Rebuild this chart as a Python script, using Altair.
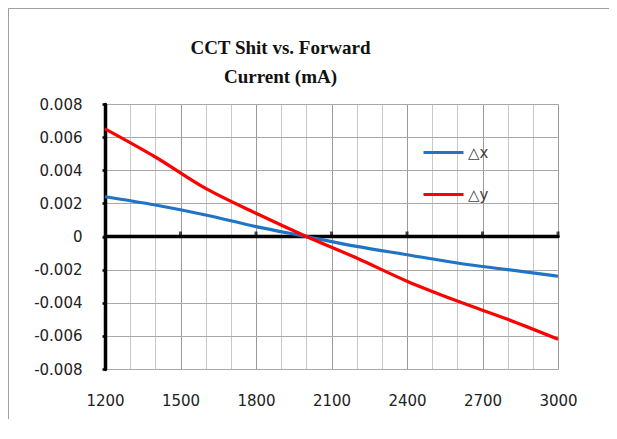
import altair as alt
import pandas as pd

currents = [1200, 1400, 1600, 1800, 2000, 2200, 2400, 2600, 2800, 3000]
delta_x = [0.0024, 0.0019, 0.0013, 0.0006, 0.0, -0.0006, -0.0011, -0.0016, -0.0020, -0.0024]
delta_y = [0.0065, 0.0048, 0.0029, 0.0014, 0.0, -0.0013, -0.0027, -0.0039, -0.0050, -0.0062]
series_names = ["△x", "△y"]
series_colors = ["#1f74c4", "#ff0000"]
x_grid_values = list(range(1200, 3001, 100))
x_major_values = [1500, 1800, 2100, 2400, 2700, 3000]
y_values = [-0.008, -0.006, -0.004, -0.002, 0, 0.002, 0.004, 0.006, 0.008]

rows = []
for c, dx, dy in zip(currents, delta_x, delta_y):
    rows.append({"current": c, "value": dx, "series": series_names[0]})
    rows.append({"current": c, "value": dy, "series": series_names[1]})
df = pd.DataFrame(rows)

xscale = alt.Scale(domain=[1200, 3000], nice=False, zero=False)
yscale = alt.Scale(domain=[-0.008, 0.008], nice=False, zero=False)

x_axis = alt.Axis(
    values=x_grid_values,
    labelExpr="datum.value % 300 == 0 ? datum.value : ''",
    grid=True,
    gridColor={"condition": {"test": "datum.value % 300 == 0", "value": "#9a9a9a"}, "value": "#c8c8c8"},
    gridWidth=1,
    domain=False,
    ticks=False,
    labelPadding=24,
    labelFont="DejaVu Sans",
    labelFontSize=15,
    labelColor="#222222",
    labelOverlap=False,
    labelFlush=False,
    title=None,
)
y_axis = alt.Axis(
    values=y_values,
    labelExpr="datum.value == 0 ? '0' : (datum.value < 0 ? '-' : '') + format(abs(datum.value), '.3f')",
    grid=True,
    gridColor="#a8a8a8",
    gridWidth=1,
    domain=True,
    domainColor="#000000",
    domainWidth=3.5,
    domainCap="round",
    ticks=True,
    tickColor="#000000",
    tickWidth=2.5,
    tickSize=3,
    labelPadding=20,
    labelFont="DejaVu Sans",
    labelFontSize=15,
    labelColor="#222222",
    labelOverlap=False,
    labelFlush=False,
    title=None,
)

base = alt.Chart(df)

lines = base.mark_line(strokeWidth=3.2, interpolate="monotone").encode(
    x=alt.X("current:Q", scale=xscale, axis=x_axis),
    y=alt.Y("value:Q", scale=yscale, axis=y_axis),
    color=alt.Color(
        "series:N",
        scale=alt.Scale(domain=series_names, range=series_colors),
        legend=alt.Legend(
            title=None,
            orient="none",
            legendX=317,
            legendY=27,
            symbolType="stroke",
            symbolSize=1600,
            symbolStrokeWidth=3,
            labelFont="DejaVu Sans",
            labelFontSize=15,
            labelColor="#404040",
            rowPadding=12,
            labelOffset=3,
        ),
    ),
)

zero_df = pd.DataFrame({"y": [0]})
zero_line = alt.Chart(zero_df).mark_rule(color="#000000", strokeWidth=3.5, strokeCap="round").encode(
    y=alt.Y("y:Q", scale=yscale, axis=y_axis)
)

tick_df = pd.DataFrame({"current": x_major_values, "y": [0] * len(x_major_values)})
zero_ticks = alt.Chart(tick_df).mark_tick(color="#000000", thickness=3, size=6, orient="vertical", yOffset=-2).encode(
    x=alt.X("current:Q", scale=xscale, axis=x_axis),
    y=alt.Y("y:Q", scale=yscale, axis=y_axis),
)

frame = alt.Chart(zero_df).mark_rule(color="#a0a0a0", strokeWidth=2).encode(
    x=alt.value(-97), x2=alt.value(504), y=alt.value(-96)
)
frame_left = alt.Chart(zero_df).mark_rule(color="#a0a0a0", strokeWidth=2).encode(
    x=alt.value(-97), y=alt.value(-96), y2=alt.value(345)
)

chart = alt.layer(zero_line, zero_ticks, lines, frame, frame_left).properties(
    width=453,
    height=265,
    padding={"left": 97, "top": 96, "right": 51, "bottom": 50},
    autosize=alt.AutoSizeParams(type="none"),
    title=alt.TitleParams(
        text=["CCT Shit vs. Forward", "Current (mA)"],
        font="Liberation Serif",
        fontSize=19,
        fontWeight="bold",
        color="#111111",
        anchor="middle",
        dx=-51,
        offset=-80,
        lineHeight=29,
    ),
).configure_view(stroke="#a8a8a8", strokeWidth=1).configure(background="#ffffff")

chart.save("out.html", embed_options={"renderer": "svg", "actions": False})
